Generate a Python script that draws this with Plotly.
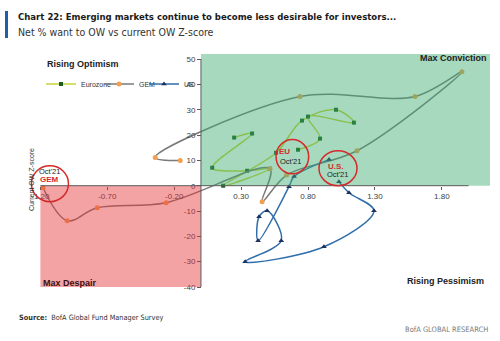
import plotly.graph_objects as go

# ---------------- data ----------------
euro_x = [0.248, 0.382, 0.084, 0.345, 0.516, 0.166, 0.561, 0.755, 1.009, 1.143, 0.800, 0.890, 0.725]
euro_y = [19.0, 20.6, 7.1, 5.9, 6.7, 0.0, 13.0, 25.7, 30.0, 24.9, 27.3, 18.6, 14.2]

gem_x = [-0.155, -0.342, 0.740, 1.600, 1.950, 1.166, 0.640, 0.457, 0.516, -0.260, -0.775, -1.000, -1.180]
gem_y = [9.9, 11.1, 35.2, 35.2, 45.0, 13.8, 4.2, -6.3, 6.7, -6.7, -8.7, -13.8, -0.8]

us_x = [1.031, 1.106, 1.293, 0.919, 0.330, 0.600, 0.494, 0.434, 0.427, 0.658, 0.696, 0.957]
us_y = [1.6, -2.8, -9.9, -24.1, -30.0, -21.7, -9.9, -12.3, -21.7, -0.4, 3.6, 10.3]

x_tickvals = [-1.2, -0.7, -0.2, 0.3, 0.8, 1.3, 1.8]
x_ticktext = ["-1.20", "-0.70", "-0.20", "0.30", "0.80", "1.30", "1.80"]
y_tickvals = [-40, -30, -20, -10, 0, 10, 20, 30, 40, 50]
y_ticktext = ["-40", "-30", "-20", "-10", "0", "10", "20", "30", "40", "50"]

# ---------------- layout helpers ----------------
W, H = 500, 341
ML, MR, MT, MB = 27, 10, 54, 54
PW, PH = W - ML - MR, H - MT - MB
XR = [-1.3, 2.16]
YR = [-40, 52]


def px2paper(px, py):
    return (px - ML) / PW, (H - MB - py) / PH


fig = go.Figure()
line_w = 1.5
fig.add_trace(go.Scatter(x=euro_x, y=euro_y, mode="lines+markers", name="Eurozone", legend="legend",
                         line=dict(color="#c9d43a", width=line_w, shape="spline", smoothing=1),
                         marker=dict(symbol="square", size=4, color="#1b5e20")))
fig.add_trace(go.Scatter(x=gem_x, y=gem_y, mode="lines+markers", name="GEM", legend="legend2",
                         line=dict(color="#7a7a7a", width=line_w, shape="spline", smoothing=1),
                         marker=dict(symbol="circle", size=5, color="#f0a050")))
fig.add_trace(go.Scatter(x=us_x, y=us_y, mode="lines+markers", name="US", legend="legend3",
                         line=dict(color="#2f6eaa", width=line_w, shape="spline", smoothing=1),
                         marker=dict(symbol="triangle-up", size=5, color="#1f2f5f")))

shapes = [
    # translucent quadrant overlays (above the lines, as in the original)
    dict(type="rect", xref="x", yref="y", x0=0, x1=XR[1], y0=0, y1=YR[1],
         fillcolor="rgba(60,170,110,0.45)", line=dict(width=0), layer="above"),
    dict(type="rect", xref="x", yref="y", x0=-1.2, x1=0, y0=-40, y1=0,
         fillcolor="rgba(230,50,55,0.45)", line=dict(width=0), layer="above"),
    # axis lines
    dict(type="line", xref="x", yref="y", x0=-1.2, x1=2.0, y0=0, y1=0,
         line=dict(color="#5a5a5a", width=1), layer="above"),
    dict(type="line", xref="x", yref="y", x0=0, x1=0, y0=-40, y1=50,
         line=dict(color="#5a5a5a", width=1), layer="above"),
    # red circles
    dict(type="circle", xref="x", yref="y", x0=0.561, x1=0.805, y0=4.7, y1=18.2,
         line=dict(color="#d42a2a", width=1.5), layer="above"),
    dict(type="circle", xref="x", yref="y", x0=0.882, x1=1.166, y0=0.0, y1=13.8,
         line=dict(color="#d42a2a", width=1.5), layer="above"),
    dict(type="circle", xref="x", yref="y", x0=-1.267, x1=-0.99, y0=-6.3, y1=7.9,
         line=dict(color="#d42a2a", width=1.5), layer="above"),
]
bx0, by0 = px2paper(5, 38)
bx1, by1 = px2paper(8, 11)
shapes.append(dict(type="rect", xref="paper", yref="paper", x0=bx0, x1=bx1, y0=by0, y1=by1,
                   fillcolor="#1f5fa8", line=dict(width=0)))

narrow = "Liberation Sans Narrow, DejaVu Sans Condensed, Arial Narrow, Liberation Sans, sans-serif"
ann = []


def text(x, y, t, size, color="#222222", bold=False, xanchor="center", ref="x", **kw):
    s = f"<b>{t}</b>" if bold else t
    if ref == "paper":
        xr, yr = "paper", "paper"
    else:
        xr, yr = "x", "y"
    ann.append(dict(x=x, y=y, xref=xr, yref=yr, text=s, showarrow=False, xanchor=xanchor,
                    yanchor="middle", font=dict(size=size, color=color, **kw.pop("font", {})), **kw))


text(-0.879, 48.2, "Rising Optimism", 9, "#222222", True, font=dict(family="Liberation Sans, Arial"))
text(2.15, 50.6, "Max Conviction", 9, "#222222", True, xanchor="right", font=dict(family="Liberation Sans, Arial"))
text(-1.195, -38.3, "Max Despair", 9, "#3a1010", True, xanchor="left", font=dict(family="Liberation Sans, Arial"))
text(1.83, -37.5, "Rising Pessimism", 9, "#222222", True, font=dict(family="Liberation Sans, Arial"))
text(0.569, -43.1, "Net % Want to OW", 7, "#222222", True, font=dict(family="Liberation Sans, Arial"))

text(0.621, 13.4, "EU", 8, "#d42a2a", True, font=dict(family="Liberation Sans, Arial"))
text(0.666, 9.6, "Oct'21", 7.5, "#222222", font=dict(family="Liberation Sans, Arial"))
text(1.009, 7.4, "U.S.", 8, "#d42a2a", True, font=dict(family="Liberation Sans, Arial"))
text(1.024, 4.5, "Oct'21", 7.5, "#222222", font=dict(family="Liberation Sans, Arial"))
text(-1.133, 5.6, "Oct'21", 7.5, "#222222", font=dict(family="Liberation Sans, Arial"))
text(-1.133, 2.3, "GEM", 8, "#d42a2a", True, font=dict(family="Liberation Sans, Arial"))

yx, yy = px2paper(31, 180)
ann.append(dict(x=yx, y=yy, xref="paper", yref="paper", text="Current OW Z-score", textangle=-90,
                showarrow=False, xanchor="center", yanchor="middle",
                font=dict(size=7, color="#333333", family="Liberation Sans, Arial")))

tx, ty = px2paper(16, 17)
ann.append(dict(x=tx, y=ty, xref="paper", yref="paper",
                text="<b>Chart 22: Emerging markets continue to become less desirable for investors...</b>",
                showarrow=False, xanchor="left", yanchor="middle",
                font=dict(size=9.5, color="#1a1a1a", family=narrow)))
sx, sy = px2paper(16, 32)
ann.append(dict(x=sx, y=sy, xref="paper", yref="paper", text="Net % want to OW vs current OW Z-score",
                showarrow=False, xanchor="left", yanchor="middle",
                font=dict(size=10.5, color="#333333", family=narrow)))
srx, sry = px2paper(17, 317)
ann.append(dict(x=srx, y=sry, xref="paper", yref="paper",
                text="<b>Source:</b>  BofA Global Fund Manager Survey",
                showarrow=False, xanchor="left", yanchor="middle",
                font=dict(size=7.3, color="#333333", family=narrow)))
brx, bry = px2paper(490, 329)
ann.append(dict(x=brx, y=bry, xref="paper", yref="paper", text="BofA GLOBAL RESEARCH",
                showarrow=False, xanchor="right", yanchor="middle",
                font=dict(size=7.5, color="#7a7a7a", family=narrow)))


def legend_at(text_start_px, py):
    lx, ly = px2paper(text_start_px - 40, py)
    return dict(orientation="h", x=lx, y=ly, xanchor="left", yanchor="middle",
                bgcolor="rgba(0,0,0,0)", font=dict(size=7, color="#333333"),
                itemwidth=30)


fig.update_layout(
    width=W, height=H, margin=dict(l=ML, r=MR, t=MT, b=MB),
    paper_bgcolor="white", plot_bgcolor="white",
    font=dict(family="Liberation Sans, Arial, sans-serif", size=8, color="#333333"),
    showlegend=True,
    legend=legend_at(81, 84),
    legend2=legend_at(139, 84),
    legend3=legend_at(184, 84),
    xaxis=dict(range=XR, anchor="free", position=(0 - YR[0]) / (YR[1] - YR[0]),
               tickvals=x_tickvals, ticktext=x_ticktext, ticks="outside", ticklen=3,
               tickcolor="#5a5a5a", showgrid=False, zeroline=False, showline=False,
               tickfont=dict(size=8, color="#404040")),
    yaxis=dict(range=YR, anchor="free", position=(0 - XR[0]) / (XR[1] - XR[0]),
               tickvals=y_tickvals, ticktext=y_ticktext, ticks="outside", ticklen=4,
               tickcolor="#5a5a5a", showgrid=False, zeroline=False, showline=False,
               tickfont=dict(size=8, color="#404040")),
    shapes=shapes, annotations=ann,
)
fig.write_html("out.html")
